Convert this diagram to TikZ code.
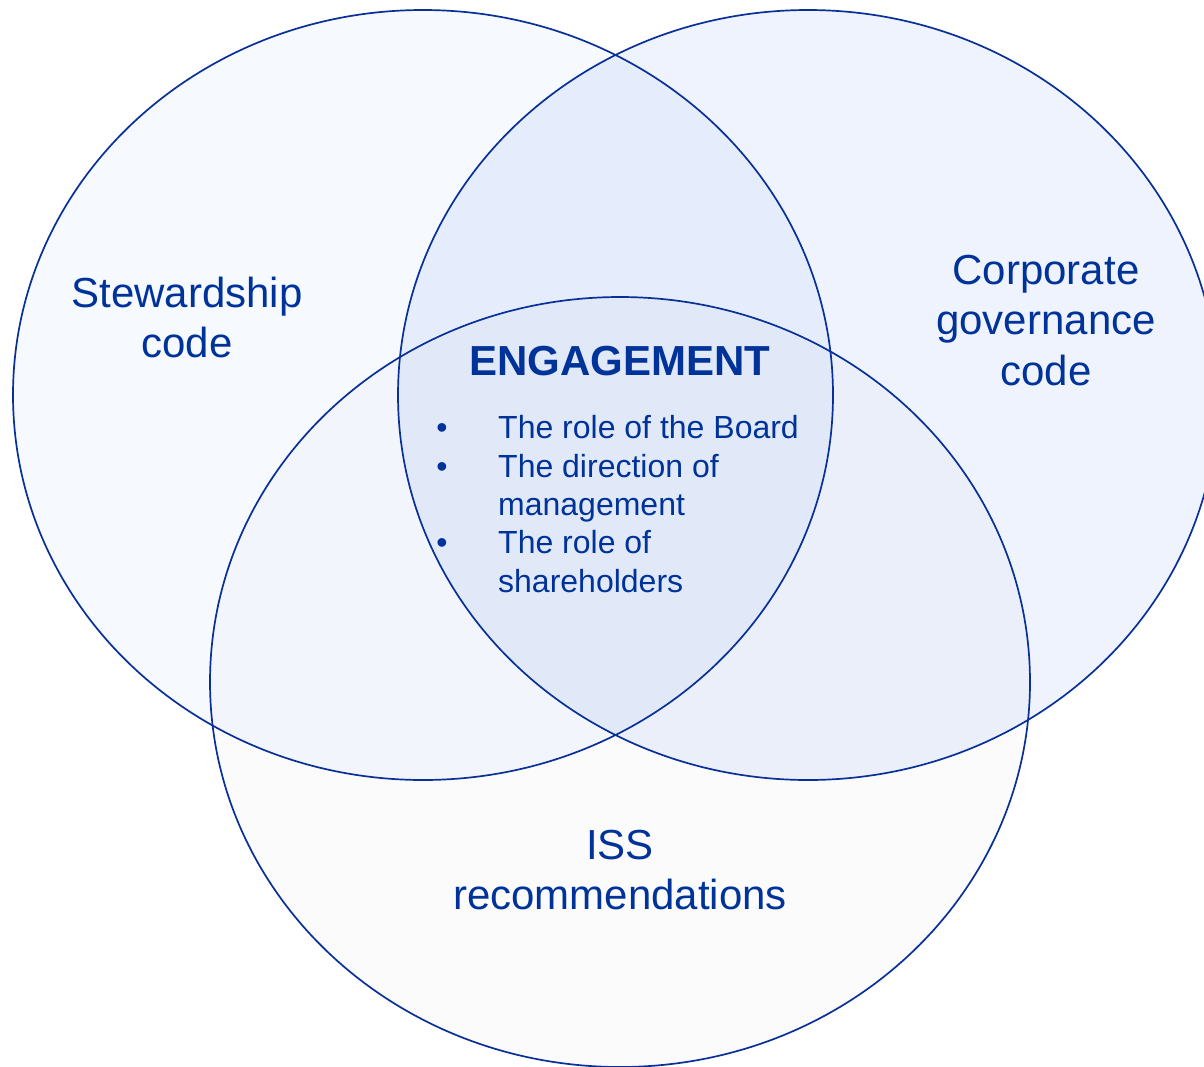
\documentclass[tikz,border=0pt]{standalone}
\usepackage{fontspec}
\setmainfont{Liberation Sans}
\begin{document}
\begin{tikzpicture}[x=1pt,y=-1pt,
  ring/.style={draw=ringblue, line width=1.7pt},
  label/.style={text=textblue, font=\fontsize{42}{50}\selectfont, anchor=base, inner sep=0pt},
  head/.style={text=textblue, font=\fontsize{42}{50}\selectfont\bfseries, anchor=base, inner sep=0pt},
  item/.style={text=textblue, font=\fontsize{32}{38}\selectfont, anchor=base west, inner sep=0pt},
  dot/.style={text=textblue, font=\fontsize{32}{38}\selectfont, anchor=base, inner sep=0pt}]
\definecolor{ringblue}{RGB}{8,48,150}
\definecolor{textblue}{RGB}{0,51,153}
\definecolor{fillL}{RGB}{246,249,254}
\definecolor{fillR}{RGB}{238,243,253}
\definecolor{fillB}{RGB}{251,251,252}
\useasboundingbox (0,0) rectangle (1204,1066);
\fill[white] (0,0) rectangle (1204,1066);

% tinted discs, multiplied so the overlaps darken
\begin{scope}[blend group=multiply]
  \fill[fillL] (423,395) ellipse [x radius=410, y radius=385];
  \fill[fillR] (808,395) ellipse [x radius=410, y radius=385];
  \fill[fillB] (620,682) ellipse [x radius=410, y radius=385];
\end{scope}

% outlines
\draw[ring] (423,395) ellipse [x radius=410, y radius=385];
\draw[ring] (808,395) ellipse [x radius=410, y radius=385];
\draw[ring] (620,682) ellipse [x radius=410, y radius=385];

% set labels
\node[label] (stew1) at (187,307) {Stewardship};
\node[label] (stew2) at (187,357) {code};
\node[label] (corp1) at (1046,284) {Corporate};
\node[label] (corp2) at (1046,334) {governance};
\node[label] (corp3) at (1046,385) {code};
\node[label] (iss1) at (620,859) {ISS};
\node[label] (iss2) at (620,909) {recommendations};

% common area
\node[head] (eng) at (620,375) {ENGAGEMENT};
\node[dot] (b1) at (442,438) {•};
\node[item] (t1) at (498,438) {The role of the Board};
\node[dot] (b2) at (442,477) {•};
\node[item] (t2) at (498,477) {The direction of};
\node[item] (t2b) at (498,515) {management};
\node[dot] (b3) at (442,553) {•};
\node[item] (t3) at (498,553) {The role of};
\node[item] (t3b) at (498,592) {shareholders};
\end{tikzpicture}
\end{document}
